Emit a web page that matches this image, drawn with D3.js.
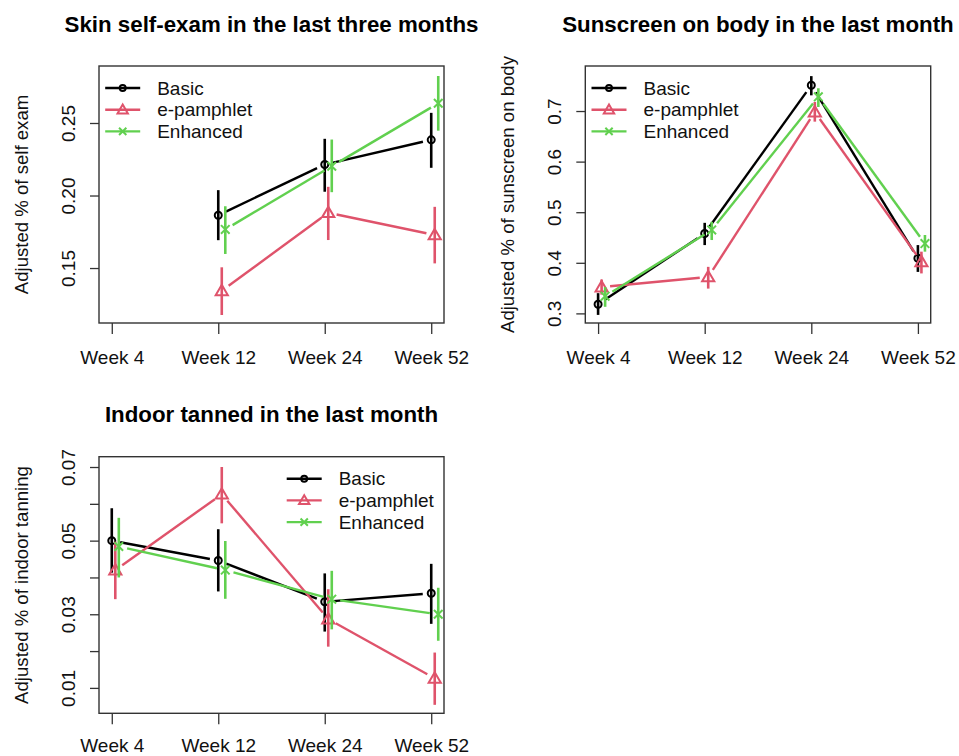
<!DOCTYPE html>
<html><head><meta charset="utf-8">
<script src="https://cdn.jsdelivr.net/npm/d3@7"></script>
<style>
html,body{margin:0;padding:0;background:#fff;}
svg{display:block;font-family:"Liberation Sans",Arial,sans-serif;}
</style></head><body>
<svg id="c" width="959" height="756"></svg>
<script>
// ---------- data ----------
const weeks = ["Week 4", "Week 12", "Week 24", "Week 52"];
const seriesNames = ["Basic", "e-pamphlet", "Enhanced"];
const seriesColors = ["#000000", "#DF536B", "#61D04F"];
const seriesShapes = ["circle", "triangle", "cross"];

// Panel 1: Skin self-exam (Basic, e-pamphlet, Enhanced)
const examEst = [[null, 0.1864, 0.2214, 0.2384], [null, 0.1343, 0.1881, 0.1728], [null, 0.1766, 0.2202, 0.2636]];
const examLo  = [[null, 0.1692, 0.2026, 0.2191], [null, 0.1176, 0.1693, 0.1532], [null, 0.1597, 0.2023, 0.2447]];
const examHi  = [[null, 0.2037, 0.2391, 0.2570], [null, 0.1505, 0.2060, 0.1922], [null, 0.1926, 0.2386, 0.2824]];
const examTicks = [0.15, 0.20, 0.25];
const examTickLabels = ["0.15", "0.20", "0.25"];
const examLim = [0.1121, 0.2893];

// Panel 2: Sunscreen on body
const sunEst = [[0.318, 0.458, 0.751, 0.409], [0.352, 0.372, 0.698, 0.402], [0.334, 0.465, 0.728, 0.438]];
const sunLo  = [[0.297, 0.435, 0.731, 0.382], [0.337, 0.349, 0.679, 0.379], [0.313, 0.445, 0.708, 0.422]];
const sunHi  = [[0.340, 0.479, 0.769, 0.435], [0.367, 0.392, 0.718, 0.422], [0.352, 0.481, 0.745, 0.455]];
const sunTicks = [0.3, 0.4, 0.5, 0.6, 0.7];
const sunTickLabels = ["0.3", "0.4", "0.5", "0.6", "0.7"];
const sunLim = [0.281, 0.789];

// Panel 3: Indoor tanning
const tanEst = [[0.0500, 0.0446, 0.0334, 0.0357], [0.0420, 0.0626, 0.0287, 0.0126], [0.0484, 0.0420, 0.0341, 0.0300]];
const tanLo  = [[0.0413, 0.0362, 0.0253, 0.0274], [0.0341, 0.0547, 0.0212, 0.0054], [0.0400, 0.0342, 0.0259, 0.0228]];
const tanHi  = [[0.0588, 0.0531, 0.0411, 0.0437], [0.0497, 0.0700, 0.0368, 0.0196], [0.0562, 0.0499, 0.0418, 0.0372]];
const tanTicks = [0.01, 0.02, 0.03, 0.04, 0.05, 0.06, 0.07];
const tanTickLabels = ["0.01", "", "0.03", "", "0.05", "", "0.07"];
const tanLim = [0.0031, 0.0728];

// ---------- panels ----------
const panels = [
  {title: "Skin self-exam in the last three months", ylab: "Adjusted % of self exam",
   est: examEst, lo: examLo, hi: examHi, ticks: examTicks, tickLabels: examTickLabels, lim: examLim,
   box: {l: 99, r: 444, t: 66, b: 323}, legend: "left", xpad: 17},
  {title: "Sunscreen on body in the last month", ylab: "Adjusted % of sunscreen on body",
   est: sunEst, lo: sunLo, hi: sunHi, ticks: sunTicks, tickLabels: sunTickLabels, lim: sunLim,
   box: {l: 585.3, r: 930.7, t: 66, b: 323}, legend: "left", xpad: 17},
  {title: "Indoor tanned in the last month", ylab: "Adjusted % of indoor tanning",
   est: tanEst, lo: tanLo, hi: tanHi, ticks: tanTicks, tickLabels: tanTickLabels, lim: tanLim,
   box: {l: 99, r: 444, t: 456.7, b: 713.3}, legend: "right", xpad: 14}
];

const svg = d3.select("#c");
const offsets = [0, 0.033, 0.066];
const axisCol = "#333";

function drawMarker(g, shape, x, y, col, s) {
  if (shape === "circle") {
    g.append("circle").attr("cx", x).attr("cy", y).attr("r", 3.5 * s)
      .attr("fill", "none").attr("stroke", col).attr("stroke-width", 2);
  } else if (shape === "triangle") {
    const h = 5.8 * s;
    const pts = [[x, y - h * 1.05], [x - h * 1.05, y + h * 0.75], [x + h * 1.05, y + h * 0.75]];
    g.append("path").attr("d", "M" + pts.map(p => p.join(",")).join("L") + "Z")
      .attr("fill", "none").attr("stroke", col).attr("stroke-width", 2);
  } else {
    const h = 4.3 * s;
    g.append("path").attr("d", `M${x - h},${y - h}L${x + h},${y + h}M${x - h},${y + h}L${x + h},${y - h}`)
      .attr("fill", "none").attr("stroke", col).attr("stroke-width", 2);
  }
}

panels.forEach(p => {
  const b = p.box;
  const g = svg.append("g");
  const x = d3.scaleLinear().domain([0.88, 4.12]).range([b.l, b.r]);
  const y = d3.scaleLinear().domain(p.lim).range([b.b, b.t]);

  // title
  g.append("text").attr("x", (b.l + b.r) / 2).attr("y", b.t - 34.5)
    .attr("text-anchor", "middle").attr("font-size", 22.3).attr("font-weight", "bold")
    .attr("fill", "#000").text(p.title);

  // x axis ticks (below box)
  const xa = d3.axisBottom(x).tickValues([1, 2, 3, 4]).tickFormat(d => weeks[d - 1])
    .tickSizeInner(11).tickSizeOuter(0).tickPadding(p.xpad);
  const gx = g.append("g").attr("transform", `translate(0,${b.b})`).call(xa);
  gx.select(".domain").remove();
  gx.selectAll(".tick line").attr("stroke", axisCol).attr("stroke-width", 1.3);
  gx.selectAll(".tick text").attr("font-size", 19).attr("fill", "#111").attr("font-family", "Liberation Sans, Arial, sans-serif");

  // y axis ticks
  const ya = d3.axisLeft(y).tickValues(p.ticks).tickFormat((d, i) => p.tickLabels[i])
    .tickSizeInner(9).tickSizeOuter(0);
  const gy = g.append("g").attr("transform", `translate(${b.l},0)`).call(ya);
  gy.select(".domain").remove();
  gy.selectAll(".tick line").attr("stroke", axisCol).attr("stroke-width", 1.3);
  gy.selectAll(".tick text")
    .attr("font-size", 19).attr("fill", "#111").attr("font-family", "Liberation Sans, Arial, sans-serif")
    .attr("x", null).attr("dy", null).attr("text-anchor", "middle")
    .attr("transform", "translate(-24.5,0) rotate(-90)");

  // y label
  g.append("text").attr("transform", `translate(${b.l - 71.5},${(b.t + b.b) / 2}) rotate(-90)`)
    .attr("text-anchor", "middle").attr("font-size", 18.6).attr("fill", "#111").text(p.ylab);

  // box
  g.append("rect").attr("x", b.l).attr("y", b.t).attr("width", b.r - b.l).attr("height", b.b - b.t)
    .attr("fill", "none").attr("stroke", axisCol).attr("stroke-width", 1.4);

  // series
  const gap = 8.5;
  seriesNames.forEach((name, si) => {
    const col = seriesColors[si];
    const sg = g.append("g");
    const pts = p.est[si].map((v, i) => v == null ? null : {
      px: x(i + 1 + offsets[si]), py: y(v), lo: y(p.lo[si][i]), hi: y(p.hi[si][i])});
    // lines with gaps (type = "b")
    for (let i = 0; i < pts.length - 1; i++) {
      const a = pts[i], c = pts[i + 1];
      if (!a || !c) continue;
      const dx = c.px - a.px, dy = c.py - a.py, L = Math.hypot(dx, dy);
      if (L <= 2 * gap) continue;
      const ux = dx / L, uy = dy / L;
      sg.append("line").attr("x1", a.px + ux * gap).attr("y1", a.py + uy * gap)
        .attr("x2", c.px - ux * gap).attr("y2", c.py - uy * gap)
        .attr("stroke", col).attr("stroke-width", 2.4).attr("stroke-linecap", "butt");
    }
    pts.forEach(pt => {
      if (!pt) return;
      sg.append("line").attr("x1", pt.px).attr("x2", pt.px).attr("y1", pt.lo).attr("y2", pt.hi)
        .attr("stroke", col).attr("stroke-width", 2.6);
      drawMarker(sg, seriesShapes[si], pt.px, pt.py, col, 1);
    });
  });

  // legend
  const lx = p.legend === "left" ? b.l + 6.2 : b.r - 157.3;
  seriesNames.forEach((name, si) => {
    const yy = b.t + 22 + si * 21.7;
    g.append("line").attr("x1", lx).attr("x2", lx + 35).attr("y1", yy).attr("y2", yy)
      .attr("stroke", seriesColors[si]).attr("stroke-width", 2.4);
    drawMarker(g, seriesShapes[si], lx + 17.5, yy, seriesColors[si], 0.85);
    g.append("text").attr("x", lx + 52).attr("y", yy).attr("dy", "0.35em")
      .attr("font-size", 19).attr("fill", "#111").text(name);
  });
});
</script>
</body></html>
